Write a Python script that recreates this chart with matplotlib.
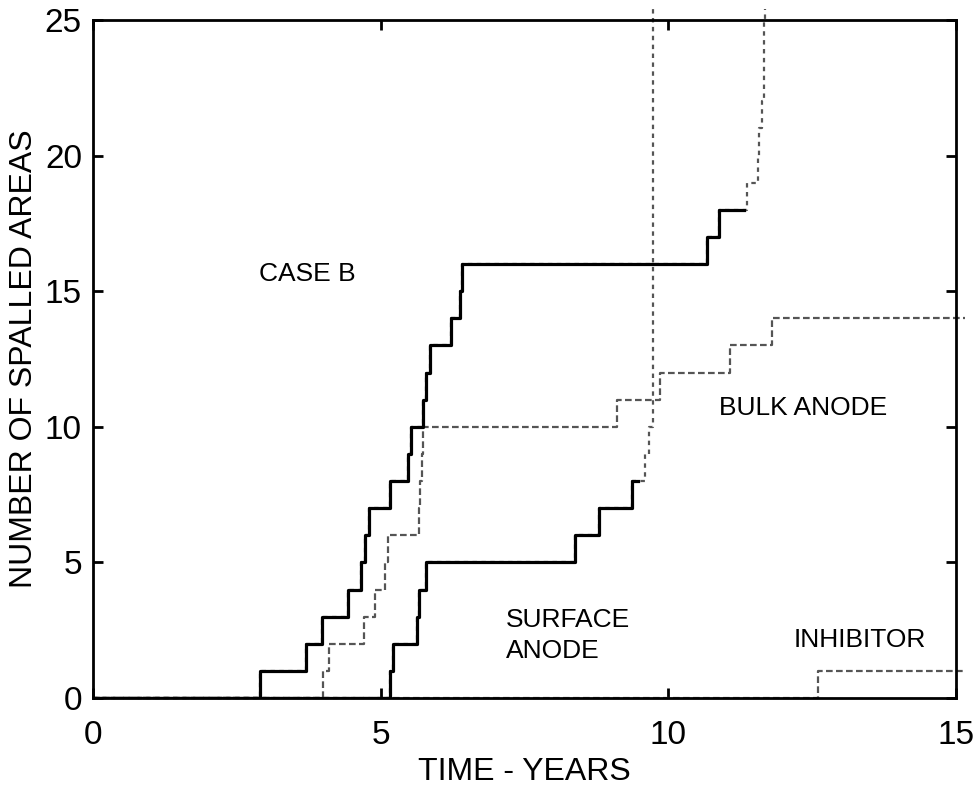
import matplotlib
matplotlib.use('Agg')
import matplotlib.pyplot as plt

plt.rcParams['font.family'] = ['Liberation Sans', 'DejaVu Sans']

# step times (years) and cumulative counts of spalled areas
case_b_t = [2.90, 3.70, 3.98, 4.44, 4.65, 4.73, 4.80, 5.17, 5.48, 5.52,
            5.74, 5.79, 5.86, 6.22, 6.38, 6.42, 10.67, 10.88]
case_b_n = [1, 2, 3, 4, 5, 6, 7, 8, 9, 10, 11, 12, 13, 14, 15, 16, 17, 18]
case_b_end = 11.31

# projected continuation of case B (dotted)
case_b_proj_t = [11.37, 11.55, 11.58, 11.62, 11.66, 11.67, 11.67, 11.68]
case_b_proj_n = [19, 20, 21, 22, 23, 24, 25, 25.4]

surf_t = [5.17, 5.21, 5.63, 5.67, 5.79, 8.37, 8.79, 9.37]
surf_n = [1, 2, 3, 4, 5, 6, 7, 8]
surf_end = 9.48

surf_proj_t = [9.60, 9.67, 9.73]
surf_proj_n = [9, 10, 25.4]

bulk_t = [3.99, 4.10, 4.71, 4.91, 5.07, 5.13, 5.66, 5.69, 5.72, 5.73,
          9.11, 9.86, 11.08, 11.81]
bulk_n = [1, 2, 3, 4, 5, 6, 7, 8, 9, 10, 11, 12, 13, 14]
bulk_end = 15.15

inhib_t = [12.61]
inhib_n = [1]
inhib_end = 15.13

xticks = [0, 5, 10, 15]
yticks = [0, 5, 10, 15, 20, 25]


def stairs(t, n, t_end):
    return [0] + t + [t_end], [0] + n + [n[-1]]


grey = '#555555'
dotted = (0, (2, 2))
dashed = (0, (3, 1.5))

fig = plt.figure(figsize=(9.77, 7.88), dpi=100)
ax = fig.add_axes([93 / 977, 90 / 788, 863 / 977, 678 / 788])

# projections (grey dotted) underneath the observed curves
x, y = stairs(case_b_t + case_b_proj_t, case_b_n + case_b_proj_n,
              case_b_proj_t[-1])
ax.step(x, y, where='post', color=grey, lw=1.6, ls=dotted, clip_on=False, zorder=2)
x, y = stairs(surf_t + surf_proj_t, surf_n + surf_proj_n, surf_proj_t[-1])
ax.step(x, y, where='post', color=grey, lw=1.6, ls=dotted, clip_on=False, zorder=2)

# observed curves
x, y = stairs(case_b_t, case_b_n, case_b_end)
ax.step(x, y, where='post', color='black', lw=2.3, zorder=3)
x, y = stairs(surf_t, surf_n, surf_end)
ax.step(x, y, where='post', color='black', lw=2.3, zorder=3)

x, y = stairs(bulk_t, bulk_n, bulk_end)
ax.step(x, y, where='post', color=grey, lw=1.6, ls=dashed, clip_on=False, zorder=2)
x, y = stairs(inhib_t, inhib_n, inhib_end)
ax.step(x, y, where='post', color=grey, lw=1.6, ls=dashed, clip_on=False, zorder=2)

ax.set_xlim(0, 15)
ax.set_ylim(0, 25)
ax.set_xticks(xticks)
ax.set_yticks(yticks)
for s in ax.spines.values():
    s.set_linewidth(2)
ax.tick_params(direction='in', length=7, width=2, top=True, right=True,
               labelsize=24)
ax.tick_params(axis='x', pad=16)
ax.tick_params(axis='y', pad=8)

ax.set_xlabel('TIME - YEARS', fontsize=23, labelpad=4)
ax.set_ylabel('NUMBER OF SPALLED AREAS', fontsize=23, labelpad=4)

txt = dict(fontsize=19, va='baseline', color='black')
ax.text(2.88, 15.36, 'CASE B', **txt)
ax.text(12.35, 10.42, 'BULK ANODE', ha='center', **txt)
ax.text(7.18, 2.63, 'SURFACE', **txt)
ax.text(7.18, 1.46, 'ANODE', **txt)
ax.text(12.18, 1.89, 'INHIBITOR', **txt)

fig.savefig('out.png', dpi=100)
